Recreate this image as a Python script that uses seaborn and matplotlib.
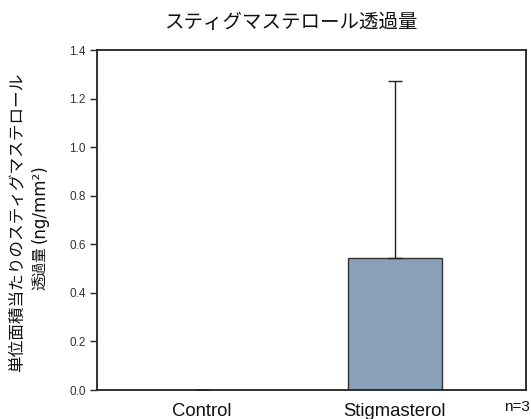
import matplotlib
matplotlib.use("Agg")
import matplotlib.pyplot as plt
import seaborn as sns
import pandas as pd

categories = ["Control", "Stigmasterol"]
means = [0.0, 0.543]
sd_upper = [0.0, 0.729]
y_ticks = [0.0, 0.2, 0.4, 0.6, 0.8, 1.0, 1.2, 1.4]

sns.set_theme(style="white")
plt.rcParams["font.family"] = ["Liberation Sans", "Noto Sans CJK JP", "DejaVu Sans"]
jp = ["Noto Sans CJK JP", "Liberation Sans", "DejaVu Sans"]

df = pd.DataFrame({"group": categories, "value": means})

fig = plt.figure(figsize=(5.31, 4.19), dpi=100)
ax = fig.add_axes([97 / 531, 1 - 390 / 419, 429 / 531, 340 / 419])

sns.barplot(data=df, x="group", y="value", order=categories, color="#8aa0b8",
            saturation=1, width=0.49, edgecolor="#333333", linewidth=1.0,
            errorbar=None, ax=ax)
ax.errorbar(range(len(categories)), means, yerr=[[0] * len(means), sd_upper],
            fmt="none", ecolor="#222222", elinewidth=1.0, capsize=5, capthick=1.0)

ax.set_xlim(-0.544, 1.679)
ax.set_ylim(0, 1.4)
ax.set_yticks(y_ticks)
ax.set_yticklabels([f"{t:.1f}" for t in y_ticks], fontsize=8.5, color="#333333")
ax.tick_params(axis="y", left=True, length=5, width=1.0, direction="out", pad=3)
ax.tick_params(axis="x", bottom=False, labelsize=13.3, pad=3, labelcolor="#111111")
ax.set_xlabel("")
ax.set_ylabel("")
for s in ax.spines.values():
    s.set_color("#222222")
    s.set_linewidth(1.3)

fig.text(291 / 531, 1 - 22 / 419, "スティグマステロール透過量", ha="center", va="center",
         fontsize=14, family=jp, color="#111111")
fig.text(17 / 531, 1 - 222 / 419, "単位面積当たりのスティグマステロール", rotation=90,
         ha="center", va="center", fontsize=12, family=jp, color="#111111")
fig.text(40 / 531, 1 - 246 / 419, "透過量", rotation=90,
         ha="center", va="top", fontsize=10.5, family=jp, color="#111111")
fig.text(40 / 531, 1 - 243 / 419, "(ng/mm²)", rotation=90,
         ha="center", va="bottom", fontsize=12, family="DejaVu Sans", color="#111111")
fig.text(517 / 531, 1 - 407 / 419, "n=3", ha="center", va="center",
         fontsize=11, color="#111111")

fig.savefig("out.png", dpi=100)
